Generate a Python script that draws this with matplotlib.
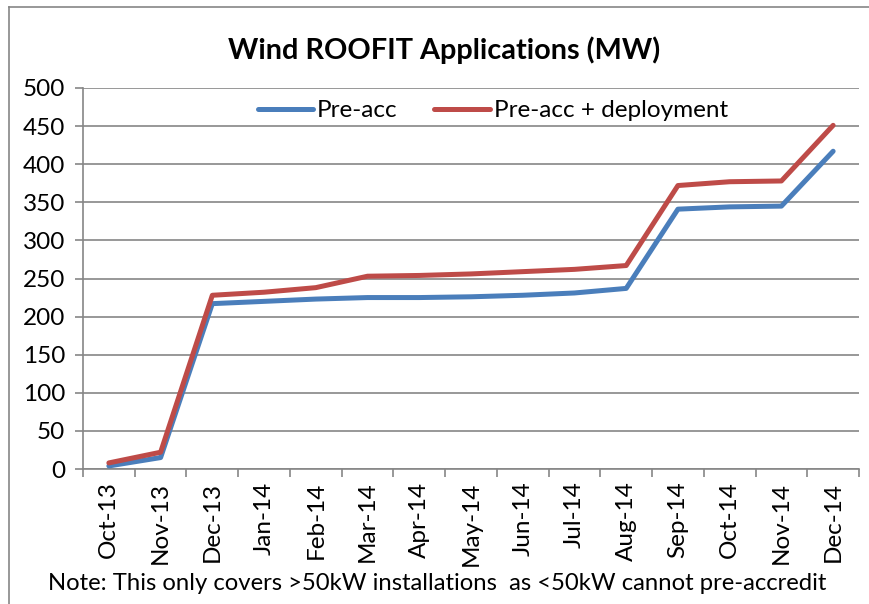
import numpy as np
import matplotlib
matplotlib.use("Agg")
import matplotlib.pyplot as plt
from matplotlib.lines import Line2D

months = ["Oct-13", "Nov-13", "Dec-13", "Jan-14", "Feb-14", "Mar-14", "Apr-14",
          "May-14", "Jun-14", "Jul-14", "Aug-14", "Sep-14", "Oct-14", "Nov-14", "Dec-14"]
pre_acc = [4, 15, 217, 220, 223, 225, 225, 226, 228, 231, 237, 341, 344, 345, 417]
pre_acc_deploy = [8, 22, 228, 232, 238, 253, 254, 256, 259, 262, 267, 372, 377, 378, 451]
yticks = [0, 50, 100, 150, 200, 250, 300, 350, 400, 450, 500]

plt.rcParams['font.family'] = ['Lato', 'DejaVu Sans']

W, H = 869, 604
fig = plt.figure(figsize=(W / 100, H / 100), dpi=100)
ax = fig.add_axes([83 / W, 1 - 469 / H, (859 - 83) / W, (469 - 88) / H])

x = np.arange(len(months))
ax.plot(x, pre_acc, color="#4A7EBB", lw=3.6, solid_capstyle="round",
        solid_joinstyle="round", label="Pre-acc", zorder=3)
ax.plot(x, pre_acc_deploy, color="#BE4B48", lw=3.6, solid_capstyle="round",
        solid_joinstyle="round", label="Pre-acc + deployment", zorder=4)

ax.set_xlim(-0.5, len(months) - 0.5)
ax.set_ylim(0, 500)
ax.set_yticks(yticks)
ax.set_yticklabels([str(v) for v in yticks], fontsize=17.5)
ax.yaxis.grid(True, color="#868686", lw=1.2)
ax.set_axisbelow(True)

ax.set_xticks(np.arange(-0.5, len(months), 1))
ax.set_xticklabels([])
ax.set_xticks(x, minor=True)
ax.set_xticklabels(months, minor=True, rotation=90, fontsize=17.5)
ax.tick_params(axis="x", which="major", length=6, color="#868686", width=1.2)
ax.tick_params(axis="x", which="minor", length=0, pad=9)
ax.tick_params(axis="y", length=6, color="#868686", width=1.2, pad=7)

for s in ["top", "right"]:
    ax.spines[s].set_visible(False)
for s in ["left", "bottom"]:
    ax.spines[s].set_color("#868686")
    ax.spines[s].set_linewidth(1.2)

leg = ax.legend(loc="upper center", bbox_to_anchor=(0.528, 1.0), ncol=2, frameon=False,
                fontsize=17.5, handlelength=2.3, handletextpad=0.15, columnspacing=1.5,
                borderaxespad=0.1)

fig.text(444 / W, 1 - 50 / H, "Wind ROOFIT Applications (MW)", ha="center", va="center",
         fontsize=20.8, fontweight="bold")
fig.text(437 / W, 1 - 583 / H,
         "Note: This only covers >50kW installations  as <50kW cannot pre-accredit",
         ha="center", va="center", fontsize=17.2)

fig.add_artist(Line2D([9 / W, 9 / W], [0, 1 - 7 / H], transform=fig.transFigure,
                      color="#868686", lw=1.2))
fig.add_artist(Line2D([9 / W, 1], [1 - 7 / H, 1 - 7 / H], transform=fig.transFigure,
                      color="#868686", lw=1.2))

fig.savefig("out.png", dpi=100)
